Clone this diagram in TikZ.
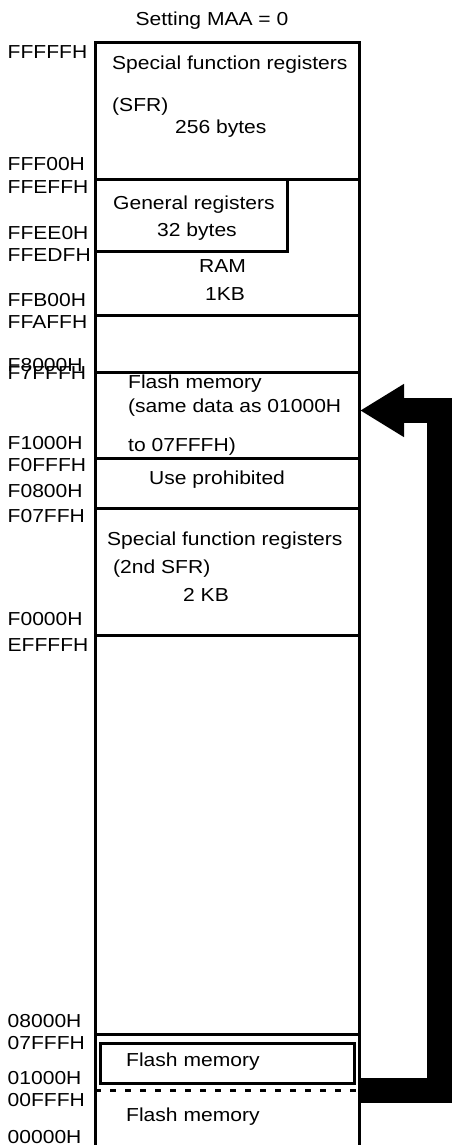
\documentclass[tikz,border=0pt]{standalone}
\usepackage{fontspec}
\setmainfont[FakeStretch=1.12]{Liberation Sans}
\usetikzlibrary{positioning,arrows.meta}

\tikzset{
  addr/.style={anchor=west, inner sep=0pt, text height=13.5pt, text depth=0pt},
  lbl/.style={anchor=west, inner sep=0pt, text height=13.5pt, text depth=0pt},
  mline/.style={line width=3pt},
}

\begin{document}
\begin{tikzpicture}[x=1pt,y=-1pt,font=\fontsize{18.8}{23}\selectfont]
\useasboundingbox (0,0) rectangle (451,1145);
\draw node (title) at (212,18.7) [lbl,anchor=center]{Setting MAA = 0};
% addresses
\foreach \y/\t [count=\i] in {51.7/FFFFFH,163.3/FFF00H,186.7/FFEFFH,233/FFEE0H,
    255/FFEDFH,300/FFB00H,321.7/FFAFFH,365/F8000H,372.5/F7FFFH,443/F1000H,
    465/F0FFFH,491/F0800H,516/F07FFH,619/F0000H,645/EFFFFH,1021/08000H,
    1043/07FFFH,1078/01000H,1100/00FFFH,1137/00000H}
  \draw node (a\i) at (7.5,\y) [addr]{\t};

% memory map
\draw[mline] (95,1146) -- (95,43) -- (359,43) -- (359,1146);
\foreach \y in {179,315,372,458,508,635,1034}
  \draw[mline] (95,\y) -- (359,\y);
\draw[mline] (95,251) -| (287,179);
\draw[mline] (100,1043) rectangle (354,1083);
\draw[mline,dash pattern=on 6pt off 9pt] (95,1090) -- (359,1090);

\draw node (sfr1) at (112,63) [lbl]{Special function registers};
\draw node (sfr2) at (112,105) [lbl]{(SFR)};
\draw node (sfr3) at (175,127) [lbl]{256 bytes};
\draw node (gr1) at (113,203) [lbl]{General registers};
\draw node (gr2) at (157,230) [lbl]{32 bytes};
\draw node (ram1) at (199,266) [lbl]{RAM};
\draw node (ram2) at (205,294) [lbl]{1KB};
\draw node (mir1) at (128,382) [lbl]{Flash memory};
\draw node (mir2) at (128,405.7) [lbl]{(same data as 01000H};
\draw node (mir3) at (128,445) [lbl]{to 07FFFH)};
\draw node (up) at (149,477.5) [lbl]{Use prohibited};
\draw node (sfr4) at (107,539) [lbl]{Special function registers};
\draw node (sfr5) at (113,566.7) [lbl]{(2nd SFR)};
\draw node (sfr6) at (183,595) [lbl]{2 KB};
\draw node (fl1) at (126,1060) [lbl]{Flash memory};
\draw node (fl2) at (126,1115) [lbl]{Flash memory};

% mirror arrow
\coordinate (src) at (359,1090.5);
\coordinate (turn) at (439,410.5);
\coordinate (dst) at (360,410.5);
\draw[line width=25pt, -{Triangle[length=44pt,width=50pt]}] (src) -| (turn) -- (dst);
\end{tikzpicture}
\end{document}
